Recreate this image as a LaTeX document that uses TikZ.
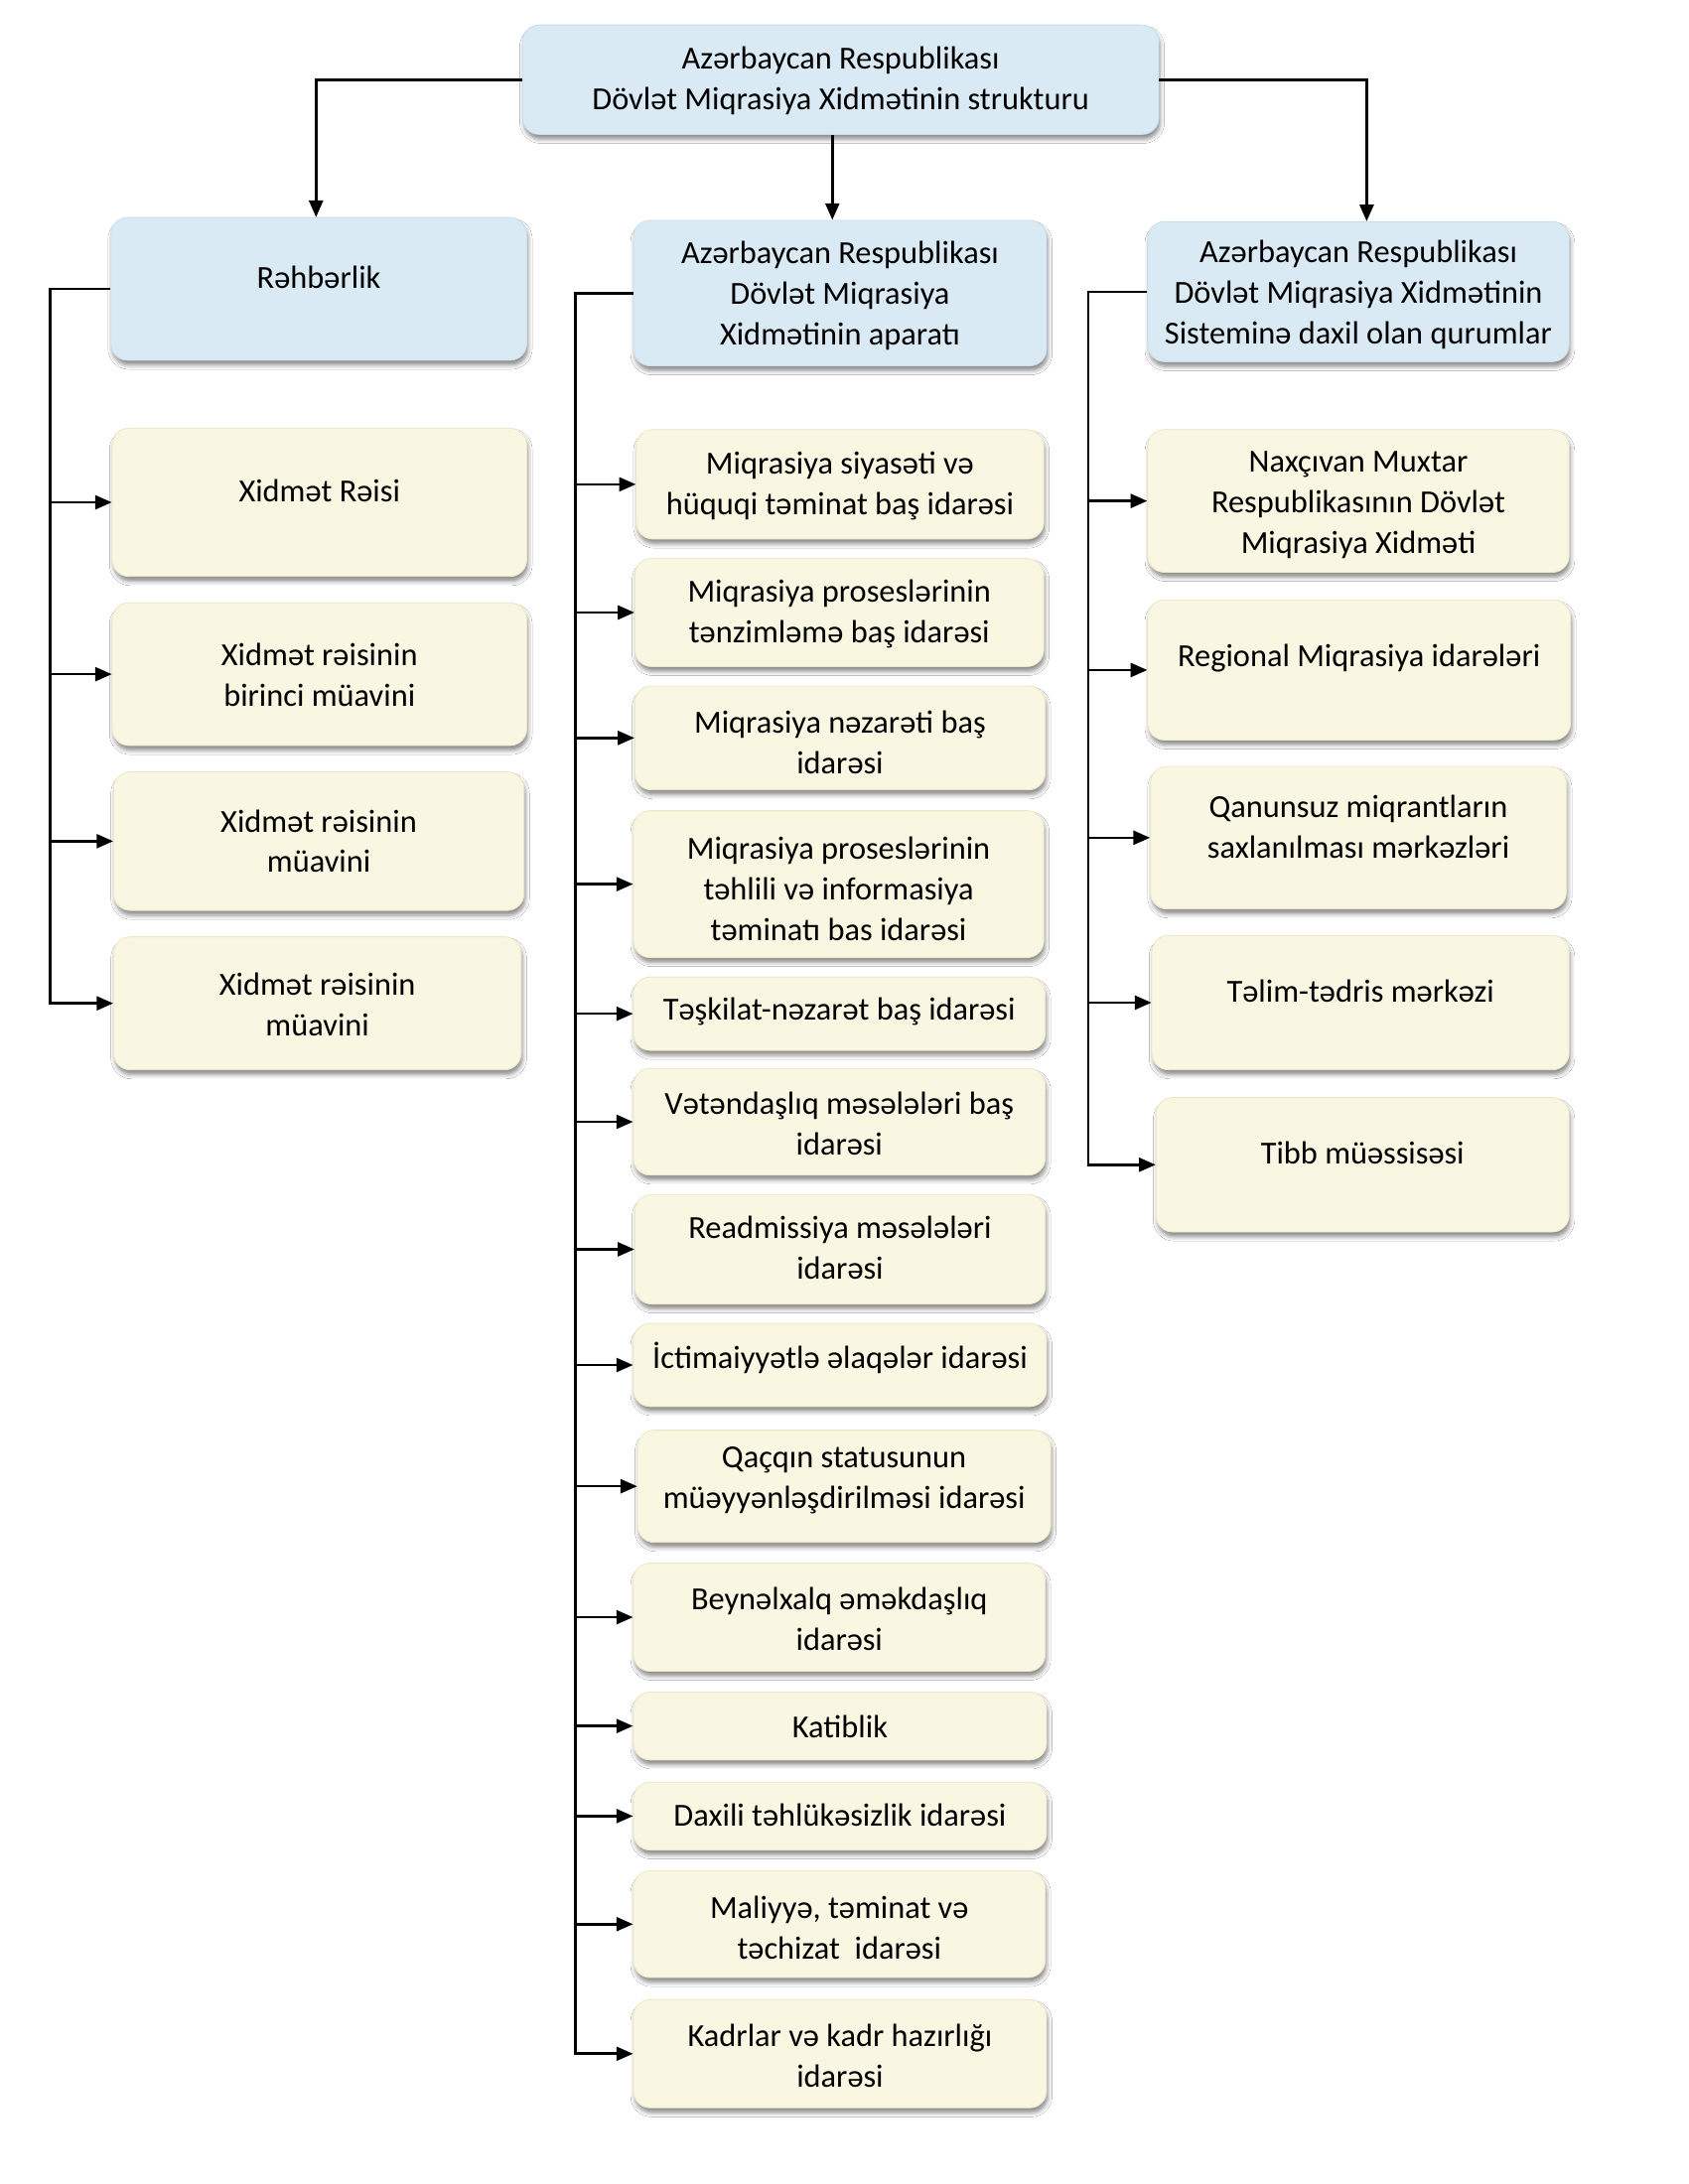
\documentclass[tikz,border=0pt]{standalone}
\usepackage{fontspec}
\setmainfont{Carlito}
\usetikzlibrary{arrows.meta,shadows.blur}
\definecolor{bluefill}{HTML}{DAEAF5}
\definecolor{blueedge}{HTML}{CADDEB}
\definecolor{creamfill}{HTML}{F9F6E1}
\definecolor{creamedge}{HTML}{EEE7C6}
\newcommand\mkbox[8]{%
  \pgfmathsetmacro\bw{#4-#3}\pgfmathsetmacro\bh{#6-#5}%
  \node[#2, minimum width=\bw pt, minimum height=\bh pt] (#1) at ({(#3+#4)/2},{(#5+#6)/2}) {};
  \node[txt] (#1-t) at ({(#3+#4)/2},#7) {#8};}
\begin{document}
\begin{tikzpicture}[x=1pt,y=-1pt,
  boxbase/.style={rounded corners=12pt, inner sep=0pt,
    blur shadow={shadow xshift=1pt,shadow yshift=-3.5pt,shadow blur radius=3pt,shadow opacity=45}},
  bluebox/.style={boxbase, fill=bluefill, draw=blueedge, line width=0.6pt},
  creambox/.style={boxbase, fill=creamfill, draw=creamedge, line width=0.6pt},
  txt/.style={align=center, inner sep=0pt, font=\fontsize{23.2}{29.2}\selectfont},
  conn/.style={line width=1.9pt, black},
  arr/.style={conn, -{Triangle[length=12pt,width=10pt]}},
]
\useasboundingbox[fill=white] (0,0) rectangle (1218,1576);

% top
\mkbox{top}{bluebox}{377}{836}{18}{97}{58.5}{Azərbaycan Respublikası\\Dövlət Miqrasiya Xidmətinin strukturu}

% left column
\mkbox{rh}{bluebox}{80}{380}{157}{260}{200}{Rəhbərlik}
\mkbox{l1}{creambox}{81}{380}{309}{416}{354}{Xidmət Rəisi}
\mkbox{l2}{creambox}{81}{380}{435}{538}{487}{Xidmət rəisinin\\birinci müavini}
\mkbox{l3}{creambox}{82}{378}{557}{657}{607}{Xidmət rəisinin\\müavini}
\mkbox{l4}{creambox}{82}{376}{676}{772}{725}{Xidmət rəisinin\\müavini}

% middle column
\mkbox{ap}{bluebox}{457}{755}{159}{264}{213.5}{Azərbaycan Respublikası\\Dövlət Miqrasiya\\Xidmətinin aparatı}
\mkbox{m1}{creambox}{459}{753}{310}{389}{350.5}{Miqrasiya siyasəti və\\hüquqi təminat baş idarəsi}
\mkbox{m2}{creambox}{458}{753}{403}{481}{443}{Miqrasiya proseslərinin\\tənzimləmə baş idarəsi}
\mkbox{m3}{creambox}{458}{754}{495}{570}{535.5}{Miqrasiya nəzarəti baş\\idarəsi}
\mkbox{m4}{creambox}{457}{753}{585}{691}{641.5}{Miqrasiya proseslərinin\\təhlili və informasiya\\təminatı bas idarəsi}
\mkbox{m5}{creambox}{457}{754}{705}{758}{730}{Təşkilat-nəzarət baş idarəsi}
\mkbox{m6}{creambox}{457}{754}{771}{848}{811}{Vətəndaşlıq məsələləri baş\\idarəsi}
\mkbox{m7}{creambox}{458}{754}{862}{941}{900.5}{Readmissiya məsələləri\\idarəsi}
\mkbox{m8}{creambox}{457}{755}{955}{1015}{980}{İctimaiyyətlə əlaqələr idarəsi}
\mkbox{m9}{creambox}{460}{758}{1032}{1113}{1068.5}{Qaçqın statusunun\\müəyyənləşdirilməsi idarəsi}
\mkbox{m10}{creambox}{457}{754}{1128}{1206}{1168.5}{Beynəlxalq əməkdaşlıq\\idarəsi}
\mkbox{m11}{creambox}{457}{755}{1221}{1270}{1246}{Katiblik}
\mkbox{m12}{creambox}{457}{755}{1286}{1335}{1310}{Daxili təhlükəsizlik idarəsi}
\mkbox{m13}{creambox}{457}{754}{1350}{1427}{1391}{Maliyyə, təminat və\\təchizat\ \ idarəsi}
\mkbox{m14}{creambox}{457}{755}{1443}{1521}{1483.5}{Kadrlar və kadr hazırlığı\\idarəsi}

% right column
\mkbox{sys}{bluebox}{828}{1132}{160}{261}{212.5}{Azərbaycan Respublikası\\Dövlət Miqrasiya Xidmətinin\\Sisteminə daxil olan qurumlar}
\mkbox{r1}{creambox}{828}{1132}{310}{413}{364.5}{Naxçıvan Muxtar\\Respublikasının Dövlət\\Miqrasiya Xidməti}
\mkbox{r2}{creambox}{828}{1133}{433}{534}{475}{Regional Miqrasiya idarələri}
\mkbox{r3}{creambox}{830}{1130}{553}{656}{596.5}{Qanunsuz miqrantların\\saxlanılması mərkəzləri}
\mkbox{r4}{creambox}{831}{1132}{675}{772}{715}{Təlim-tədris mərkəzi}
\mkbox{r5}{creambox}{834}{1132}{792}{889}{832}{Tibb müəssisəsi}

% top connectors
\draw[arr] (top.west) -| ([xshift=-2pt]rh.north);
\coordinate (tc) at ([xshift=-6pt]top.south);
\draw[arr] (tc) -- (tc |- ap.north);
\draw[arr] (top.east) -| ([xshift=6pt]sys.north);

% left trunk
\coordinate (tl) at (36,0);
\draw[arr] (rh.west) -| (tl |- l4.west) -- (l4.west);
\foreach \b in {l1,l2,l3} \draw[arr] (tl |- \b.west) -- (\b.west);

% middle trunk
\coordinate (tm) at (415,0);
\draw[arr] (ap.west) -| (tm |- m14.west) -- (m14.west);
\foreach \b in {m1,m2,m3,m4,m5,m6,m7,m8,m9,m10,m11,m12,m13} \draw[arr] (tm |- \b.west) -- (\b.west);

% right trunk
\coordinate (tr) at (785,0);
\draw[arr] (sys.west) -| (tr |- r5.west) -- (r5.west);
\foreach \b in {r1,r2,r3,r4} \draw[arr] (tr |- \b.west) -- (\b.west);
\end{tikzpicture}
\end{document}
